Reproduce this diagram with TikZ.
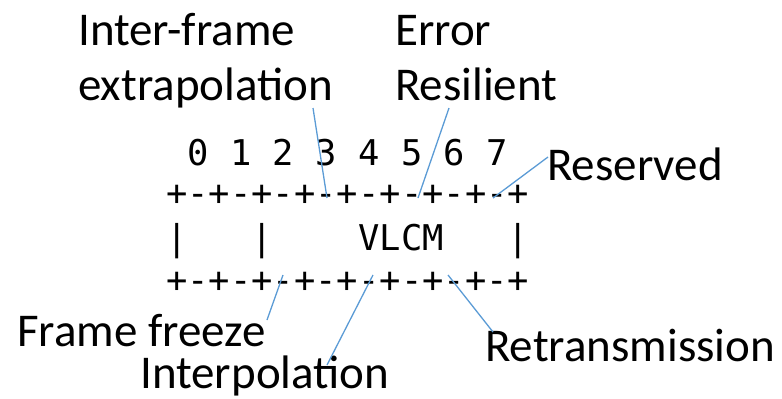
\documentclass[tikz,border=0pt]{standalone}
\usepackage{fontspec}
\setmainfont{Carlito}
\newfontfamily\bitfont{DejaVu Sans Mono}
\usetikzlibrary{positioning}
\definecolor{linkblue}{RGB}{91,155,213}

\begin{document}
\begin{tikzpicture}
    [
        x=1pt, y=-1pt,
        lbl_node/.style={anchor=base west, inner sep=0pt, font=\fontsize{47}{52}\selectfont},
        row_node/.style={anchor=base west, inner sep=0pt, font=\bitfont\fontsize{35.46}{40}\selectfont},
        blue_line/.style={line width=1.3pt, color=linkblue},
    ]
        \useasboundingbox (0,0) rectangle (782,399);
        % bit table
        \node[row_node] (bits) at (166,165) {\ 0 1 2 3 4 5 6 7};
        \node[row_node] (toprow) at (166,205) {+-+-+-+-+-+-+-+-+};
        \node[row_node] (midrow) at (166,250) {|\ \ \ |\ \ \ \ VLCM\ \ \ |};
        \node[row_node] (botrow) at (166,292) {+-+-+-+-+-+-+-+-+};
        % labels
        \node[lbl_node] (ifr) at (78,45) {Inter-frame};
        \node[lbl_node, below=55pt of ifr.base west, anchor=base west] (extrap) {extrapolation};
        \node[lbl_node] (err) at (395,45) {Error};
        \node[lbl_node, below=55pt of err.base west, anchor=base west] (resil) {Resilient};
        \node[lbl_node] (resv) at (547,180) {Reserved};
        \node[lbl_node] (ff) at (17,346) {Frame freeze};
        \node[lbl_node] (interp) at (140,388) {Interpolation};
        \node[lbl_node] (retr) at (485,361) {Retransmission};
        % bit positions
        \coordinate (bit3) at (327,198);
        \coordinate (bit5) at (418,198);
        \coordinate (bit7) at (493,198);
        \coordinate (bit2) at (283,275);
        \coordinate (bit4) at (373,275);
        \coordinate (bit6) at (448,275);
        \draw[blue_line] ([xshift=235pt, yshift=-8pt]extrap.base west) -- (bit3) ;
        \draw[blue_line] ([xshift=54pt, yshift=-8pt]resil.base west) -- (bit5) ;
        \draw[blue_line] ([xshift=1pt, yshift=23pt]resv.base west) -- (bit7) ;
        \draw[blue_line] ([xshift=250pt, yshift=26pt]ff.base west) -- (bit2) ;
        \draw[blue_line] ([xshift=187pt, yshift=23pt]interp.base west) -- (bit4) ;
        \draw[blue_line] ([xshift=8pt, yshift=29pt]retr.base west) -- (bit6) ;
    \end{tikzpicture}
\end{document}
